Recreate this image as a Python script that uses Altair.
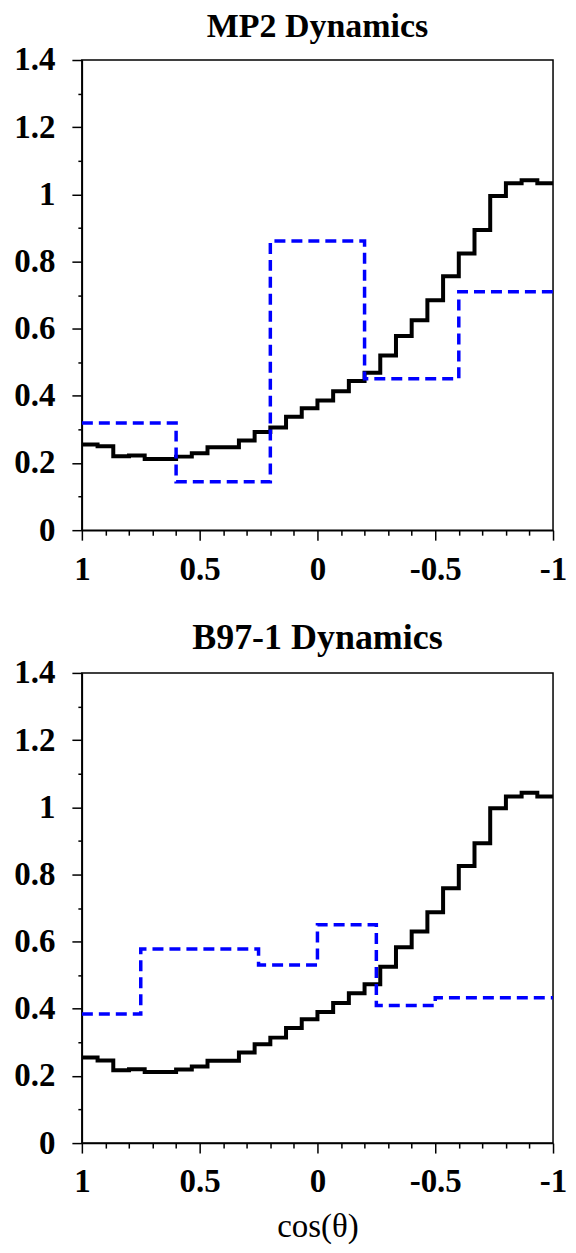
import altair as alt
import pandas as pd
import numpy as np

# Black histogram (30 bins), listed from cos=1 to cos=-1
mp2_black = [0.255, 0.250, 0.220, 0.222, 0.212, 0.212, 0.219, 0.229, 0.247, 0.247,
             0.267, 0.292, 0.306, 0.338, 0.363, 0.386, 0.414, 0.444, 0.469, 0.520,
             0.578, 0.625, 0.685, 0.756, 0.824, 0.894, 0.995, 1.033, 1.042, 1.033]
b97_black = [0.255, 0.246, 0.217, 0.220, 0.212, 0.212, 0.219, 0.228, 0.245, 0.245,
             0.270, 0.294, 0.314, 0.343, 0.369, 0.390, 0.417, 0.446, 0.473, 0.525,
             0.583, 0.630, 0.687, 0.759, 0.825, 0.893, 0.997, 1.032, 1.043, 1.032]
# Blue dashed histograms, listed from cos=1 to cos=-1
mp2_blue = [0.319, 0.144, 0.861, 0.451, 0.710]
b97_blue = [0.384, 0.578, 0.578, 0.530, 0.650, 0.410, 0.433, 0.433]

titles = ["MP2 Dynamics", "B97-1 Dynamics"]
x_ticks = [round(-1 + 0.1 * i, 1) for i in range(21)]
y_ticks = [round(0.1 * i, 1) for i in range(15)]

FONT = "Liberation Serif"
W, H = 472, 471


def steps(values):
    n = len(values)
    edges = np.linspace(1, -1, n + 1)
    rows = [{"x": float(edges[i]), "y": v} for i, v in enumerate(values)]
    rows.append({"x": -1.0, "y": values[-1]})
    return pd.DataFrame(rows)


def panel(title, black, blue, xtitle, title_size):
    xmajor = "(abs(abs(datum.value) - 0.5) < 0.001 || abs(datum.value - round(datum.value)) < 0.001)"
    ymajor = "round(datum.value*10) % 2 == 0"
    xkw = dict(
        values=x_ticks,
        labelExpr=f"{xmajor} ? '' + datum.value : ''",
        tickSize={"condition": {"test": xmajor, "value": 10}, "value": 5},
        labelFont=FONT, labelFontSize=33, labelFontWeight="bold", labelColor="black",
        labelPadding=13, labelFlush=False, labelOverlap=False, labelBound=False,
        domainColor="black", domainWidth=1.5, tickColor="black", tickWidth=1.5,
        grid=False,
    )
    if xtitle:
        xaxis = alt.Axis(title=xtitle, titleFont=FONT, titleFontSize=33,
                         titleFontWeight="normal", titleColor="black", titlePadding=12, **xkw)
    else:
        xaxis = alt.Axis(title=None, **xkw)
    yaxis = alt.Axis(
        values=y_ticks,
        labelExpr=f"{ymajor} ? '' + datum.value : ''",
        tickSize={"condition": {"test": ymajor, "value": 10}, "value": 4},
        labelFont=FONT, labelFontSize=33, labelFontWeight="bold", labelColor="black",
        labelPadding=17, labelFlush=False, labelOverlap=False,
        domainColor="black", domainWidth=1.5, tickColor="black", tickWidth=1.5,
        grid=False, title=None,
    )
    xs = alt.Scale(domain=[-1, 1], reverse=True, nice=False, zero=False)
    ys = alt.Scale(domain=[0, 1.4], nice=False)
    order = alt.Order("x:Q", sort="descending")

    black_line = alt.Chart(steps(black)).mark_line(
        interpolate="step-after", color="black", strokeWidth=4, clip=True
    ).encode(
        x=alt.X("x:Q", scale=xs, axis=xaxis),
        y=alt.Y("y:Q", scale=ys, axis=yaxis),
        order=order,
    )
    blue_line = alt.Chart(steps(blue)).mark_line(
        interpolate="step-after", color="#0000ff", strokeWidth=3.5, strokeDash=[11, 6], clip=True
    ).encode(
        x=alt.X("x:Q", scale=xs, axis=xaxis),
        y=alt.Y("y:Q", scale=ys, axis=yaxis),
        order=order,
    )
    return alt.layer(black_line, blue_line).properties(
        width=W, height=H,
        title=alt.TitleParams(title, font=FONT, fontSize=title_size, fontWeight="bold",
                              color="black", anchor="middle", frame="group", offset=0),
    )


top = panel(titles[0], mp2_black, mp2_blue, None, 34)
bottom = panel(titles[1], b97_black, b97_blue, "cos(θ)", 36)

chart = alt.vconcat(top, bottom, spacing=32).properties(
    padding={"left": 5, "top": 0, "right": 0, "bottom": 0}
).configure(background="white").configure_view(
    stroke="black", strokeWidth=1.5
)

chart.save("out.html", embed_options={"renderer": "svg", "actions": False})
